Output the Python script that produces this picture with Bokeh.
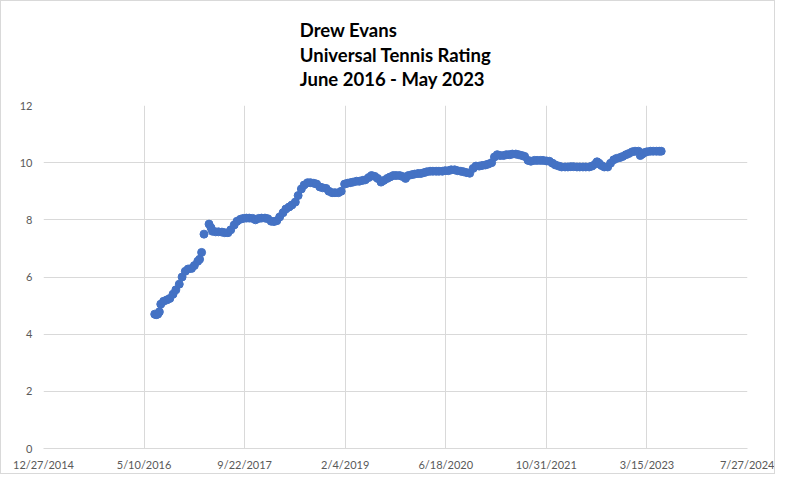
import pandas as pd
from bokeh.plotting import figure
from bokeh.models import Range1d, FixedTicker, ColumnDataSource, Title
from bokeh.embed import file_html
from bokeh.resources import INLINE

title_lines = ["Drew Evans", "Universal Tennis Rating", "June 2016 - May 2023"]

rating_dates = [
    "2016-07-02", "2016-07-09", "2016-07-17", "2016-07-25", "2016-08-01", "2016-08-15", "2016-09-01",
    "2016-09-15", "2016-10-01", "2016-10-15", "2016-11-01", "2016-11-15", "2016-12-01", "2016-12-15",
    "2017-01-01", "2017-01-15", "2017-02-01", "2017-02-10", "2017-02-20", "2017-03-04", "2017-03-29",
    "2017-04-08", "2017-04-15", "2017-05-01", "2017-05-15", "2017-06-01", "2017-06-15", "2017-07-01",
    "2017-07-15", "2017-08-01", "2017-08-15", "2017-09-01", "2017-09-15", "2017-10-01", "2017-10-15",
    "2017-11-01", "2017-11-15", "2017-12-01", "2017-12-15",
    "2018-01-01", "2018-01-15", "2018-02-01", "2018-02-15", "2018-03-01", "2018-03-15", "2018-04-01",
    "2018-04-15", "2018-05-01", "2018-05-15", "2018-06-01", "2018-06-15", "2018-07-01", "2018-07-15",
    "2018-08-01", "2018-08-15", "2018-09-01", "2018-09-15", "2018-10-01", "2018-10-15", "2018-11-01",
    "2018-11-15", "2018-12-01", "2018-12-15",
    "2019-01-01", "2019-01-15", "2019-02-01", "2019-02-15", "2019-03-01", "2019-03-15", "2019-04-01",
    "2019-04-15", "2019-05-01", "2019-05-15", "2019-06-01", "2019-06-15", "2019-07-01", "2019-07-15",
    "2019-08-01", "2019-08-15", "2019-09-01", "2019-09-15", "2019-10-01", "2019-10-15", "2019-11-01",
    "2019-11-15", "2019-12-01", "2019-12-15",
    "2020-01-01", "2020-01-15", "2020-02-01", "2020-02-15", "2020-03-01", "2020-03-15", "2020-04-01",
    "2020-04-15", "2020-05-01", "2020-05-15", "2020-06-01", "2020-06-15", "2020-07-01", "2020-07-15",
    "2020-08-01", "2020-08-15", "2020-09-01", "2020-09-15", "2020-10-01", "2020-10-15", "2020-11-01",
    "2020-11-15", "2020-12-01", "2020-12-15",
    "2021-01-01", "2021-01-15", "2021-02-01", "2021-02-15", "2021-03-01", "2021-03-15", "2021-04-01",
    "2021-04-15", "2021-05-01", "2021-05-15", "2021-06-01", "2021-06-15", "2021-07-01", "2021-07-15",
    "2021-08-01", "2021-08-15", "2021-09-01", "2021-09-15", "2021-10-01", "2021-10-15", "2021-11-01",
    "2021-11-15", "2021-12-01", "2021-12-15",
    "2022-01-01", "2022-01-15", "2022-02-01", "2022-02-15", "2022-03-01", "2022-03-15", "2022-04-01",
    "2022-04-15", "2022-05-01", "2022-05-15", "2022-06-01", "2022-06-15", "2022-07-01", "2022-07-10",
    "2022-07-20", "2022-08-01", "2022-08-15", "2022-09-01", "2022-09-15", "2022-10-01", "2022-10-15",
    "2022-11-01", "2022-11-15", "2022-12-01", "2022-12-15",
    "2023-01-01", "2023-01-15", "2023-02-01", "2023-02-10", "2023-02-20", "2023-03-01", "2023-03-15",
    "2023-04-01", "2023-04-15", "2023-05-01", "2023-05-15", "2023-05-25",
]

rating_values = [
    4.70, 4.68, 4.70, 4.78, 5.05, 5.15, 5.20, 5.25, 5.40, 5.55, 5.75, 6.00, 6.20, 6.28,
    6.30, 6.40, 6.55, 6.62, 6.86, 7.50, 7.85, 7.72, 7.60, 7.58, 7.58, 7.57, 7.55, 7.55,
    7.65, 7.82, 7.95, 8.02, 8.05, 8.06, 8.06, 8.05, 8.00, 8.05, 8.06,
    8.06, 8.04, 7.95, 7.94, 7.97, 8.10, 8.25, 8.38, 8.45, 8.52, 8.62, 8.85, 9.08, 9.22,
    9.30, 9.30, 9.28, 9.25, 9.15, 9.12, 9.10, 9.00, 8.95, 8.95,
    8.95, 9.00, 9.25, 9.28, 9.30, 9.32, 9.35, 9.35, 9.38, 9.40, 9.48, 9.55, 9.52, 9.45,
    9.32, 9.38, 9.45, 9.50, 9.55, 9.55, 9.55, 9.52, 9.45, 9.55,
    9.58, 9.60, 9.62, 9.62, 9.65, 9.68, 9.70, 9.70, 9.70, 9.70, 9.70, 9.72, 9.72, 9.75,
    9.75, 9.72, 9.70, 9.68, 9.65, 9.63, 9.80, 9.88, 9.88, 9.90,
    9.92, 9.95, 10.00, 10.20, 10.28, 10.25, 10.25, 10.28, 10.28, 10.30, 10.30, 10.28, 10.25, 10.22,
    10.08, 10.05, 10.08, 10.08, 10.08, 10.08, 10.06, 10.05, 9.98, 9.92,
    9.88, 9.85, 9.85, 9.85, 9.86, 9.86, 9.85, 9.85, 9.85, 9.85, 9.85, 9.88, 9.95, 10.03,
    9.98, 9.90, 9.85, 9.85, 9.98, 10.10, 10.15, 10.18, 10.22, 10.28, 10.32,
    10.38, 10.40, 10.40, 10.25, 10.30, 10.35, 10.38, 10.40, 10.40, 10.40, 10.40, 10.40,
]

x_tick_labels = ["12/27/2014", "5/10/2016", "9/22/2017", "2/4/2019",
                 "6/18/2020", "10/31/2021", "3/15/2023", "7/27/2024"]
y_ticks = [0, 2, 4, 6, 8, 10, 12]

tick_dates = pd.to_datetime(x_tick_labels, format="%m/%d/%Y")
tick_ms = [int(d.value // 10**6) for d in tick_dates]

src = ColumnDataSource(dict(x=pd.to_datetime(rating_dates), y=rating_values))

p = figure(width=773, height=465, frame_width=704, frame_height=343,
           output_backend="svg", toolbar_location=None,
           x_axis_type="datetime",
           x_range=Range1d(tick_dates[0], tick_dates[-1]),
           y_range=Range1d(y_ticks[0], y_ticks[-1]))

p.min_border_left = 42
p.min_border_right = 27
p.min_border_top = 97
p.min_border_bottom = 25
p.outline_line_color = None
p.background_fill_color = "white"
p.border_fill_color = "white"
p.styles = {"border": "1px solid #d9d9d9", "box-sizing": "border-box"}

t = Title(text="\n".join(title_lines), align="center", text_font="Lato",
          text_font_size="18.5px", text_font_style="bold", text_color="black",
          text_line_height=1.13, standoff=30, offset=-3)
p.add_layout(t, "above")

p.scatter("x", "y", source=src, size=8, marker="circle",
          fill_color="#4472C4", line_color="#4472C4")

gray = "#d9d9d9"
lab = "#595959"
p.xaxis.ticker = FixedTicker(ticks=tick_ms)
p.xaxis.major_label_overrides = {ms: lbl for ms, lbl in zip(tick_ms, x_tick_labels)}
p.yaxis.ticker = FixedTicker(ticks=y_ticks)

for ax in (p.xaxis, p.yaxis):
    ax.major_tick_line_color = None
    ax.minor_tick_line_color = None
    ax.major_tick_out = 0
    ax.major_tick_in = 0
    ax.minor_tick_out = 0
    ax.minor_tick_in = 0
    ax.major_label_text_color = lab
    ax.major_label_text_font = "Lato"
    ax.major_label_text_font_size = "11px"
p.xaxis.axis_line_color = gray
p.yaxis.axis_line_color = None
p.xaxis.major_label_standoff = 9
p.yaxis.major_label_standoff = 11

p.xgrid.grid_line_color = gray
p.ygrid.grid_line_color = gray
p.xgrid.ticker = FixedTicker(ticks=tick_ms)
p.ygrid.ticker = FixedTicker(ticks=y_ticks)

open("out.html", "w").write(file_html(p, INLINE))
